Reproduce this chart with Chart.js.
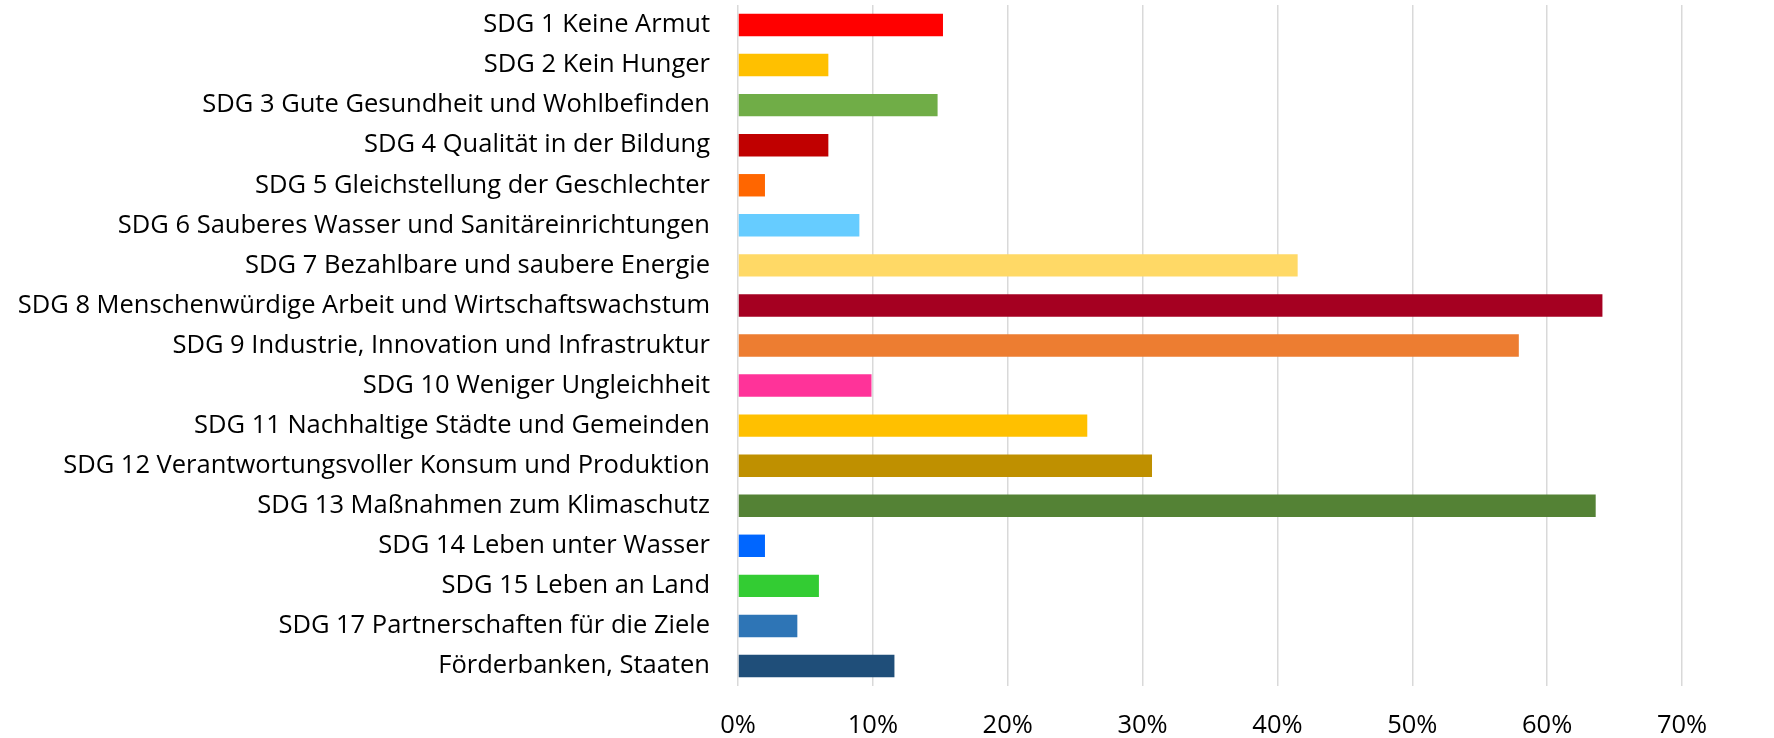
<!DOCTYPE html>
<html>
<head>
<meta charset="utf-8">
<script src="https://cdn.jsdelivr.net/npm/chart.js@4"></script>
<style>
html,body{margin:0;padding:0;background:#fff;}
#wrap{width:1774px;height:738px;position:relative;}
</style>
</head>
<body>
<div id="wrap"><canvas id="c" width="1774" height="738"></canvas></div>
<script>
const categories = [
  "SDG 1 Keine Armut",
  "SDG 2 Kein Hunger",
  "SDG 3 Gute Gesundheit und Wohlbefinden",
  "SDG 4 Qualität in der Bildung",
  "SDG 5 Gleichstellung der Geschlechter",
  "SDG 6 Sauberes Wasser und Sanitäreinrichtungen",
  "SDG 7 Bezahlbare und saubere Energie",
  "SDG 8 Menschenwürdige Arbeit und Wirtschaftswachstum",
  "SDG 9 Industrie, Innovation und Infrastruktur",
  "SDG 10 Weniger Ungleichheit",
  "SDG 11 Nachhaltige Städte und Gemeinden",
  "SDG 12 Verantwortungsvoller Konsum und Produktion",
  "SDG 13 Maßnahmen zum Klimaschutz",
  "SDG 14 Leben unter Wasser",
  "SDG 15 Leben an Land",
  "SDG 17 Partnerschaften für die Ziele",
  "Förderbanken, Staaten"
];
const shares = [15.2, 6.7, 14.8, 6.7, 2.0, 9.0, 41.5, 64.1, 57.9, 9.9, 25.9, 30.7, 63.6, 2.0, 6.0, 4.4, 11.6];
const barColors = [
  "#FF0000", "#FFC000", "#70AD47", "#C00000", "#FF6600", "#66CCFF", "#FFD966",
  "#A50021", "#ED7D31", "#FF3399", "#FFC000", "#BF9000", "#548235", "#0066FF",
  "#33CC33", "#2E75B6", "#1F4E79"
];
const xTickValues = [0, 10, 20, 30, 40, 50, 60, 70];

const FONT = "'Open Sans'";
new Chart(document.getElementById('c'), {
  type: 'bar',
  data: {
    labels: categories,
    datasets: [{
      data: shares,
      backgroundColor: barColors,
      borderWidth: 0,
      barPercentage: 0.56,
      categoryPercentage: 1.0
    }]
  },
  options: {
    indexAxis: 'y',
    responsive: false,
    animation: false,
    layout: { padding: { top: 5, right: 92, left: 0, bottom: 0 } },
    plugins: { legend: { display: false }, tooltip: { enabled: false } },
    scales: {
      x: {
        min: 0, max: 70,
        afterBuildTicks: (s) => { s.ticks = xTickValues.map(v => ({ value: v })); },
        afterFit: (s) => { s.height = 52; s.paddingLeft = 0; s.paddingRight = 0; },
        grid: { color: '#D9D9D9', lineWidth: 1.5, drawTicks: false },
        border: { display: false },
        ticks: {
          padding: 24,
          color: '#000',
          font: { family: FONT, size: 25.5 },
          callback: (v) => v + '%'
        }
      },
      y: {
        afterFit: (s) => { s.width = 738; s.paddingTop = 0; s.paddingBottom = 0; },
        grid: { display: false, drawTicks: false },
        border: { display: false },
        ticks: {
          padding: 28,
          color: '#000',
          autoSkip: false,
          font: { family: FONT, size: 25.5 }
        }
      }
    }
  }
});
</script>
</body>
</html>
